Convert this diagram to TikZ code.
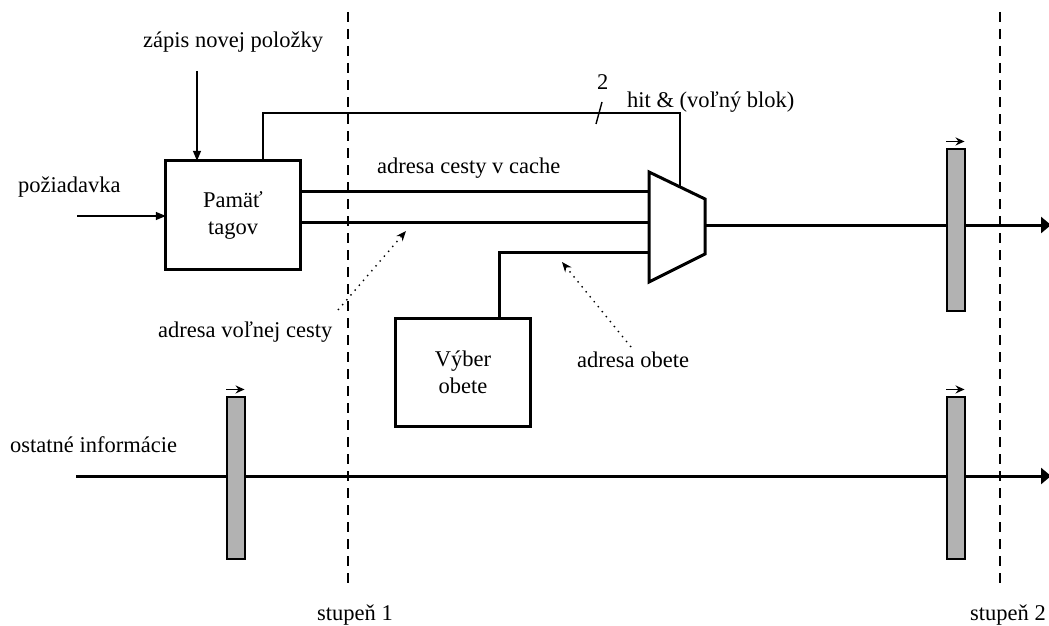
\documentclass[tikz,border=0pt]{standalone}
\usepackage{fontspec}
\setmainfont{Liberation Serif}
\usetikzlibrary{arrows.meta}
\begin{document}
\begin{tikzpicture}[x=1pt,y=-1pt,
  every node/.style={font=\fontsize{22.5}{27}\selectfont, inner sep=0pt},
  lbl/.style={anchor=base west},
  blk/.style={minimum width=134pt, minimum height=108pt, align=center},
  reg/.style={draw, line width=1.1pt, fill=black!30, minimum width=18pt,
              minimum height=162pt},
  bus/.style={line width=3pt},
  wire/.style={line width=1.4pt},
  stage/.style={line width=1.3pt, dash pattern=on 10pt off 7pt},
  hint/.style={line width=1.4pt, dash pattern=on 1.4pt off 5pt,
               -{Stealth[length=10pt,width=8pt]}},
  inarrow/.style={wire, -{Triangle[length=10pt,width=8pt]}},
  outarrow/.style={bus, -{Triangle[length=10pt,width=16pt]}},
  clk/.style={line width=1.6pt, -{Stealth[length=9pt,width=8pt]}}]
\useasboundingbox (0,0) rectangle (1049,626);

% pipeline stage boundaries
\coordinate (s1t) at (348,12);  \coordinate (s1b) at (348,590);
\coordinate (s2t) at (1000,12); \coordinate (s2b) at (1000,590);
\draw[stage] (s1t) -- (s1b);
\draw[stage] (s2t) -- (s2b);
\node[lbl] (st1) at (317,620) {stupeň 1};
\node[lbl] (st2) at (970,620) {stupeň 2};

% tag memory and victim selection, outlined with the bus width
\node[blk] (tag) at (233,215) {Pamäť\\tagov};
\node[blk] (vyb) at (463,372.5) {Výber\\obete};
\draw[bus] (tag.south west) rectangle (tag.north east);
\draw[bus] (vyb.south west) rectangle (vyb.north east);

% multiplexer
\coordinate (mtl) at (649,172);
\coordinate (mtr) at (705,199);
\coordinate (mbr) at (705,254);
\coordinate (mbl) at (649,282);
\draw[bus, line join=miter] (mtl) -- (mtr) -- (mbr) -- (mbl) -- cycle;
\coordinate (mA) at (649,191);
\coordinate (mB) at (649,222);
\coordinate (mC) at (649,252);
\coordinate (mout) at (705,225);
\coordinate (msel) at (680,187);

% inputs of the tag memory
\coordinate (zin) at (197,71);
\coordinate (pin) at (77,216);
\draw[inarrow] (zin) -- (zin |- tag.north);
\draw[inarrow] (pin) -- (pin -| tag.west);
\node[lbl] (zlab) at (143,48) {zápis novej položky};
\node[lbl] (plab) at (18,192) {požiadavka};

% buses into the multiplexer
\draw[bus] (tag.east |- mA) -- (mA);
\draw[bus] (tag.east |- mB) -- (mB);
\coordinate (vb) at (499,252);
\draw[bus] (vyb.north -| vb) -- (vb) -- (mC);
\node[lbl] (acc) at (377,173) {adresa cesty v cache};

% hit / free block select signal
\coordinate (fb1) at (263,113);
\coordinate (fb2) at (680,113);
\draw[wire] (tag.north -| fb1) -- (fb1) -- (fb2) -- (msel);
\coordinate (tk1) at (596,124);
\coordinate (tk2) at (602,102);
\draw[wire] (tk1) -- (tk2);
\node[lbl] (two) at (597,89) {2};
\node[lbl] (hit) at (627,107) {hit \& (voľný blok)};

% annotations
\coordinate (h1s) at (338,310); \coordinate (h1e) at (406,231);
\coordinate (h2s) at (631,347); \coordinate (h2e) at (562,262);
\draw[hint] (h1s) -- (h1e);
\draw[hint] (h2s) -- (h2e);
\node[lbl] (avc) at (158,337) {adresa voľnej cesty};
\node[lbl] (aob) at (577,367) {adresa obete};

% signals passing through the pipeline registers
\coordinate (oend) at (1051,225);
\draw[outarrow] (mout) -- (oend);
\coordinate (oin) at (76,476);
\coordinate (oout) at (1051,476);
\draw[outarrow] (oin) -- (oout);
\node[lbl] (oth) at (10,452) {ostatné informácie};

% pipeline registers, drawn over the signals
\node[reg] (r1) at (956,230) {};
\node[reg] (r2) at (236,478) {};
\node[reg] (r3) at (956,478) {};
\foreach \r in {r1,r2,r3}
  \draw[clk] ([yshift=7pt]\r.north west) -- ([yshift=7pt,xshift=-1pt]\r.north east);
\end{tikzpicture}
\end{document}
